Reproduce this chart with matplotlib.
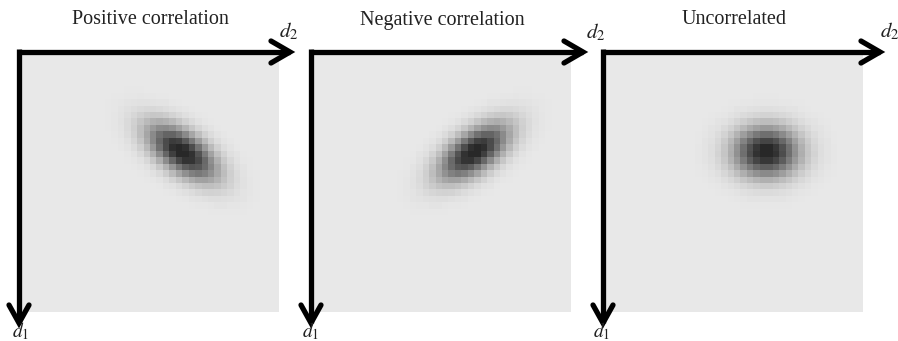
import numpy as np
import matplotlib.pyplot as plt

plt.rcParams['mathtext.fontset'] = 'stix'

# panel titles and the Gaussian parameters behind each map
titles = ["Positive correlation", "Negative correlation", "Uncorrelated"]
mean_d1 = [15.2, 15.2, 15.2]      # row (d1) of the peak
mean_d2 = [25.0, 25.0, 25.0]      # column (d2) of the peak
sigma_d1 = [3.0, 3.0, 2.7]
sigma_d2 = [3.7, 3.7, 3.5]
rho = [0.6, -0.6, 0.0]
grid_n = 40

background = 0.91
darkest = 0.16
saturation = 1.05

# layout in figure pixels
panel_x0 = [19, 311, 603]
arrow_len_x = [271, 272, 277]
sq_w = 258
top_y = 52
arrow_tip_y = 323
d2_pos = [(289, 31), (596, 32), (890, 31)]
d1_pos = [(21, 337), (311, 337), (602, 337)]

W, H = 898, 341
fig = plt.figure(figsize=(W / 100, H / 100), dpi=100)
ax = fig.add_axes([0, 0, 1, 1])
ax.set_xlim(0, W)
ax.set_ylim(H, 0)
ax.axis('off')

rows, cols = np.mgrid[0:grid_n, 0:grid_n] + 0.5
lw = 3.8

for i in range(3):
    x0 = panel_x0[i]
    # bivariate normal density on the grid
    u = (rows - mean_d1[i]) / sigma_d1[i]
    v = (cols - mean_d2[i]) / sigma_d2[i]
    r = rho[i]
    g = np.exp(-(u**2 - 2 * r * u * v + v**2) / (2 * (1 - r**2)))
    g = np.clip(g * saturation, 0, 1)
    img = background - (background - darkest) * g
    ax.imshow(img, cmap='gray', vmin=0, vmax=1, interpolation='nearest',
              extent=(x0 + 2, x0 + 2 + sq_w, top_y + 2 + sq_w, top_y + 2),
              aspect='auto', zorder=1)

    # d2 axis (right) and d1 axis (down)
    xt = x0 + arrow_len_x[i]
    ax.plot([x0, xt], [top_y, top_y], color='black', lw=lw,
            solid_capstyle='butt', zorder=3)
    ax.plot([xt - 19, xt, xt - 19], [top_y - 11, top_y, top_y + 11],
            color='black', lw=lw, solid_capstyle='round',
            solid_joinstyle='miter', zorder=3)
    ax.plot([x0, x0], [top_y - lw * 0.7, arrow_tip_y], color='black', lw=lw,
            solid_capstyle='butt', zorder=3)
    ax.plot([x0 - 10, x0, x0 + 10], [arrow_tip_y - 18, arrow_tip_y, arrow_tip_y - 18],
            color='black', lw=lw, solid_capstyle='round',
            solid_joinstyle='miter', zorder=3)

    ax.text(x0 + 2 + sq_w / 2, 20, titles[i], ha='center', va='center',
            fontsize=14.5, family='Liberation Serif', color='#222222')
    ax.text(*d2_pos[i], r'$d_2$', ha='center', va='center', fontsize=15,
            color='#222222')
    ax.text(*d1_pos[i], r'$d_1$', ha='center', va='baseline', fontsize=14,
            color='#222222')

fig.savefig('out.png', dpi=100, facecolor='white')
